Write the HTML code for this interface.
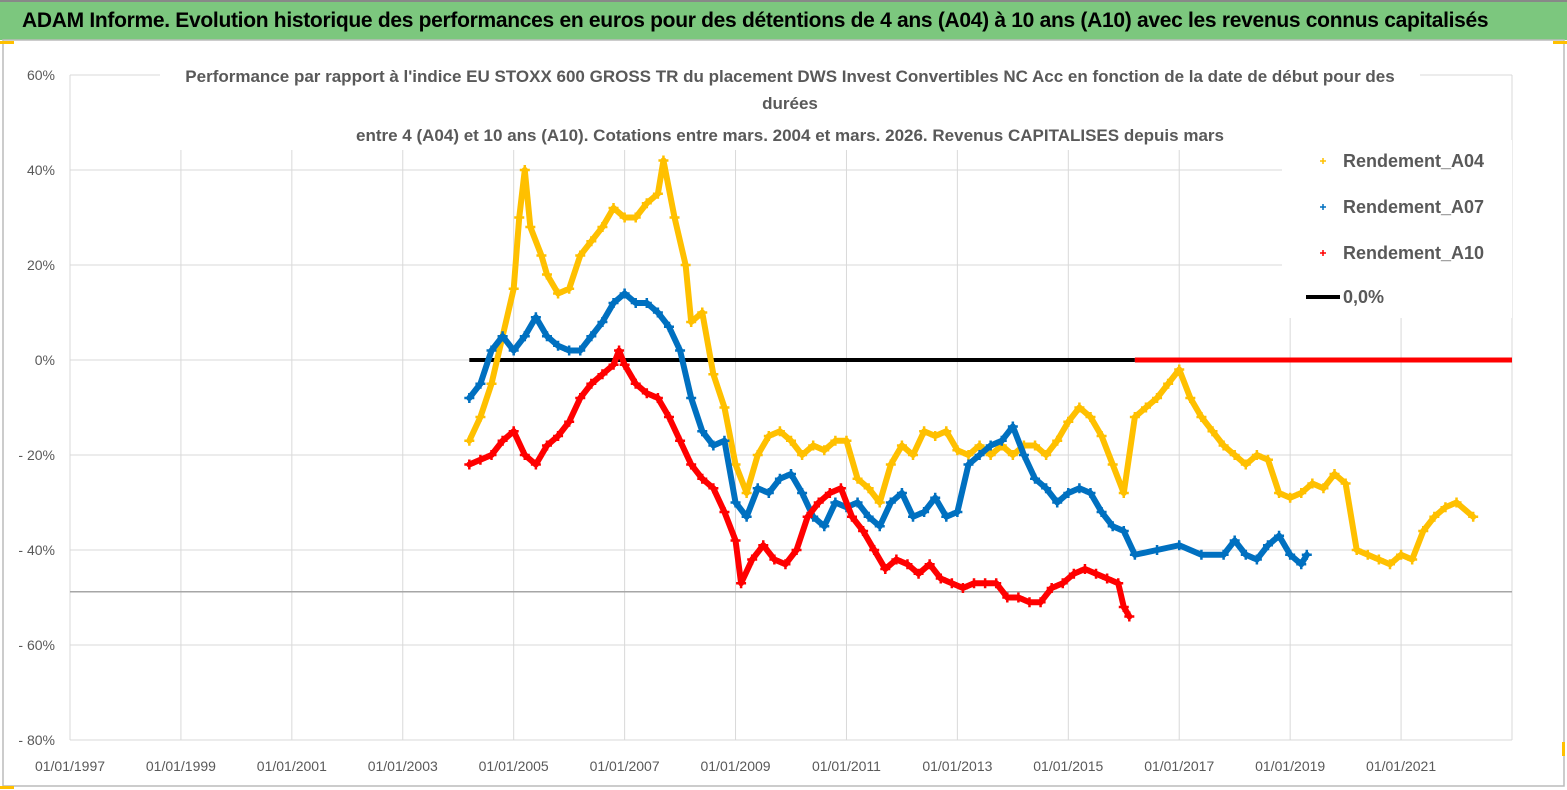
<!DOCTYPE html>
<html><head><meta charset="utf-8">
<style>
html,body{margin:0;padding:0;background:#fff;}
body{width:1567px;height:790px;position:relative;overflow:hidden;font-family:"Liberation Sans",sans-serif;}
#title{position:absolute;left:0;top:0;width:1567px;height:40px;background:#7cc77e;border-top:2px solid #888;box-sizing:border-box;font-weight:bold;font-size:21px;line-height:38px;padding-left:22px;color:#000;letter-spacing:-0.3px;}
svg{position:absolute;left:0;top:0;}
</style></head><body>
<div id="title">ADAM Informe. Evolution historique des performances en euros pour des détentions de 4 ans (A04) à 10 ans (A10) avec les revenus connus capitalisés</div>
<svg id="chart" width="1567" height="790"></svg>
<script>
const yTicks=[60,40,20,0,-20,-40,-60,-80];
const yTickLabels=["60%","40%","20%","0%","- 20%","- 40%","- 60%","- 80%"];
const xTicks=[1997,1999,2001,2003,2005,2007,2009,2011,2013,2015,2017,2019,2021];
const xTickLabels=["01/01/1997","01/01/1999","01/01/2001","01/01/2003","01/01/2005","01/01/2007","01/01/2009","01/01/2011","01/01/2013","01/01/2015","01/01/2017","01/01/2019","01/01/2021"];
const minLineValue=-48.8;
const zeroLineRange=[2004.2,2016.2];
const zeroRedRange=[2016.2,2023];
const a04Years=[2004.2,2004.4,2004.6,2004.8,2005.0,2005.1,2005.2,2005.3,2005.5,2005.6,2005.8,2006.0,2006.2,2006.4,2006.6,2006.8,2007.0,2007.2,2007.4,2007.6,2007.7,2007.9,2008.1,2008.2,2008.4,2008.6,2008.8,2009.0,2009.2,2009.4,2009.6,2009.8,2010.0,2010.2,2010.4,2010.6,2010.8,2011.0,2011.2,2011.4,2011.6,2011.8,2012.0,2012.2,2012.4,2012.6,2012.8,2013.0,2013.2,2013.4,2013.6,2013.8,2014.0,2014.2,2014.4,2014.6,2014.8,2015.0,2015.2,2015.4,2015.6,2015.8,2016.0,2016.2,2016.4,2016.6,2016.8,2017.0,2017.2,2017.4,2017.6,2017.8,2018.0,2018.2,2018.4,2018.6,2018.8,2019.0,2019.2,2019.4,2019.6,2019.8,2020.0,2020.2,2020.4,2020.6,2020.8,2021.0,2021.2,2021.4,2021.6,2021.8,2022.0,2022.3];
const a04Values=[-17,-12,-5,5,15,30,40,28,22,18,14,15,22,25,28,32,30,30,33,35,42,30,20,8,10,-3,-10,-22,-28,-20,-16,-15,-17,-20,-18,-19,-17,-17,-25,-27,-30,-22,-18,-20,-15,-16,-15,-19,-20,-18,-20,-18,-20,-18,-18,-20,-17,-13,-10,-12,-16,-22,-28,-12,-10,-8,-5,-2,-8,-12,-15,-18,-20,-22,-20,-21,-28,-29,-28,-26,-27,-24,-26,-40,-41,-42,-43,-41,-42,-36,-33,-31,-30,-33];
const a07Years=[2004.2,2004.4,2004.6,2004.8,2005.0,2005.2,2005.4,2005.6,2005.8,2006.0,2006.2,2006.4,2006.6,2006.8,2007.0,2007.2,2007.4,2007.6,2007.8,2008.0,2008.2,2008.4,2008.6,2008.8,2009.0,2009.2,2009.4,2009.6,2009.8,2010.0,2010.2,2010.4,2010.6,2010.8,2011.0,2011.2,2011.4,2011.6,2011.8,2012.0,2012.2,2012.4,2012.6,2012.8,2013.0,2013.2,2013.4,2013.6,2013.8,2014.0,2014.2,2014.4,2014.6,2014.8,2015.0,2015.2,2015.4,2015.6,2015.8,2016.0,2016.2,2016.6,2017.0,2017.4,2017.8,2018.0,2018.2,2018.4,2018.6,2018.8,2019.0,2019.2,2019.3];
const a07Values=[-8,-5,2,5,2,5,9,5,3,2,2,5,8,12,14,12,12,10,7,2,-8,-15,-18,-17,-30,-33,-27,-28,-25,-24,-28,-33,-35,-30,-31,-30,-33,-35,-30,-28,-33,-32,-29,-33,-32,-22,-20,-18,-17,-14,-20,-25,-27,-30,-28,-27,-28,-32,-35,-36,-41,-40,-39,-41,-41,-38,-41,-42,-39,-37,-41,-43,-41];
const a10Years=[2004.2,2004.4,2004.6,2004.8,2005.0,2005.2,2005.4,2005.6,2005.8,2006.0,2006.2,2006.4,2006.6,2006.8,2006.9,2007.0,2007.2,2007.4,2007.6,2007.8,2008.0,2008.2,2008.4,2008.6,2008.8,2009.0,2009.1,2009.3,2009.5,2009.7,2009.9,2010.1,2010.3,2010.5,2010.7,2010.9,2011.1,2011.3,2011.5,2011.7,2011.9,2012.1,2012.3,2012.5,2012.7,2012.9,2013.1,2013.3,2013.5,2013.7,2013.9,2014.1,2014.3,2014.5,2014.7,2014.9,2015.1,2015.3,2015.5,2015.7,2015.9,2016.0,2016.1];
const a10Values=[-22,-21,-20,-17,-15,-20,-22,-18,-16,-13,-8,-5,-3,-1,2,-1,-5,-7,-8,-12,-17,-22,-25,-27,-32,-38,-47,-42,-39,-42,-43,-40,-33,-30,-28,-27,-33,-36,-40,-44,-42,-43,-45,-43,-46,-47,-48,-47,-47,-47,-50,-50,-51,-51,-48,-47,-45,-44,-45,-46,-47,-52,-54];

const NS="http://www.w3.org/2000/svg";
const svg=document.getElementById('chart');
const X0=70,X1=1512,Y0=75,Y1=740;
const xs=y=>X0+(y-1997)/(2023-1997)*(X1-X0);
const ys=v=>Y0+(60-v)/140*(Y1-Y0);
function mk(tag,attrs,parent){const e=document.createElementNS(NS,tag);for(const k in attrs)e.setAttribute(k,attrs[k]);(parent||svg).appendChild(e);return e;}

const frame=mk('rect',{x:3,y:40,width:1561,height:746,fill:'none',stroke:'#bbb','stroke-width':1.5});



yTicks.forEach((t,i)=>{
  const g=mk('line',{x1:X0,x2:X1,y1:ys(t),y2:ys(t),stroke:'#d9d9d9','stroke-width':1});
  
  
  const l=mk('text',{x:55,y:ys(t)+5,'text-anchor':'end','font-size':14,fill:'#595959'});
  l.textContent=yTickLabels[i];
  
  
});
xTicks.concat([2023]).forEach((t,i)=>{
  const g=mk('line',{x1:xs(t),x2:xs(t),y1:Y0,y2:Y1,stroke:'#d9d9d9','stroke-width':1});
  
  
  if(i<xTickLabels.length){
    const l=mk('text',{x:xs(t),y:771,'text-anchor':'middle','font-size':14,fill:'#595959'});
    l.textContent=xTickLabels[i];
    
    
  }
});
const minl=mk('line',{x1:X0,x2:X1,y1:ys(minLineValue),y2:ys(minLineValue),stroke:'#a6a6a6','stroke-width':1.5});



const sub=[["Performance par rapport à l'indice EU STOXX 600 GROSS TR  du placement DWS Invest Convertibles NC Acc en fonction de la date de début pour des",82],["durées",109],["entre 4 (A04) et 10 ans (A10).  Cotations entre mars. 2004 et mars. 2026. Revenus CAPITALISES depuis mars",141]];
const bgS=mk('rect',{x:160,y:64,width:1260,height:86,fill:'#fff'});


sub.forEach(s=>{
  const t=mk('text',{x:790,y:s[1],'text-anchor':'middle','font-size':17,'font-weight':'bold',fill:'#595959'});
  t.textContent=s[0];
  
  
});

function series(years,vals,color,name){
  const g=mk('g',{});
  
  
  const pts=years.map((y,i)=>xs(y)+','+ys(vals[i])).join(' ');
  mk('polyline',{points:pts,fill:'none',stroke:color,'stroke-width':6,'stroke-linejoin':'round','stroke-linecap':'round'},g);
  years.forEach((y,i)=>{
    const x=xs(y),yy=ys(vals[i]);
    const p=mk('path',{d:`M${x-5},${yy}H${x+5}M${x},${yy-5}V${yy+5}`,stroke:color,'stroke-width':2.5},g);
    
    
  });
}
const zl=mk('line',{x1:xs(zeroLineRange[0]),x2:xs(zeroLineRange[1]),y1:ys(0),y2:ys(0),stroke:'#000','stroke-width':4});


series(a04Years,a04Values,'#ffc000','series-a04');
series(a07Years,a07Values,'#0070c0','series-a07');
series(a10Years,a10Values,'#ff0000','series-a10');
const zr=mk('line',{x1:xs(zeroRedRange[0]),x2:xs(zeroRedRange[1]),y1:ys(0),y2:ys(0),stroke:'#ff0000','stroke-width':5});



const lg=mk('g',{});


mk('rect',{x:1282,y:140,width:230,height:178,fill:'#fff'},lg);
const leg=[['Rendement_A04','#ffc000',161],['Rendement_A07','#0070c0',207],['Rendement_A10','#ff0000',253]];
leg.forEach(e=>{
  const it=mk('g',{},lg);
  
  
  mk('path',{d:`M1320,${e[2]}h6M1323,${e[2]-3}v6`,stroke:e[1],'stroke-width':1.5},it);
  const t=mk('text',{x:1343,y:e[2]+6,'font-size':18,'font-weight':'bold',fill:'#595959'},it);
  t.textContent=e[0];
});
const it=mk('g',{},lg);


mk('line',{x1:1306,x2:1340,y1:297,y2:297,stroke:'#000','stroke-width':4},it);
const t0=mk('text',{x:1343,y:303,'font-size':18,'font-weight':'bold',fill:'#595959'},it);
t0.textContent='0,0%';

[[0,41,14,3],[1553,41,14,3],[0,786,14,3],[1562,742,3,14]].forEach(c=>{
  const r=mk('rect',{x:c[0],y:c[1],width:c[2],height:c[3],fill:'#ffc000'});
  
  
});
</script>
</body></html>
